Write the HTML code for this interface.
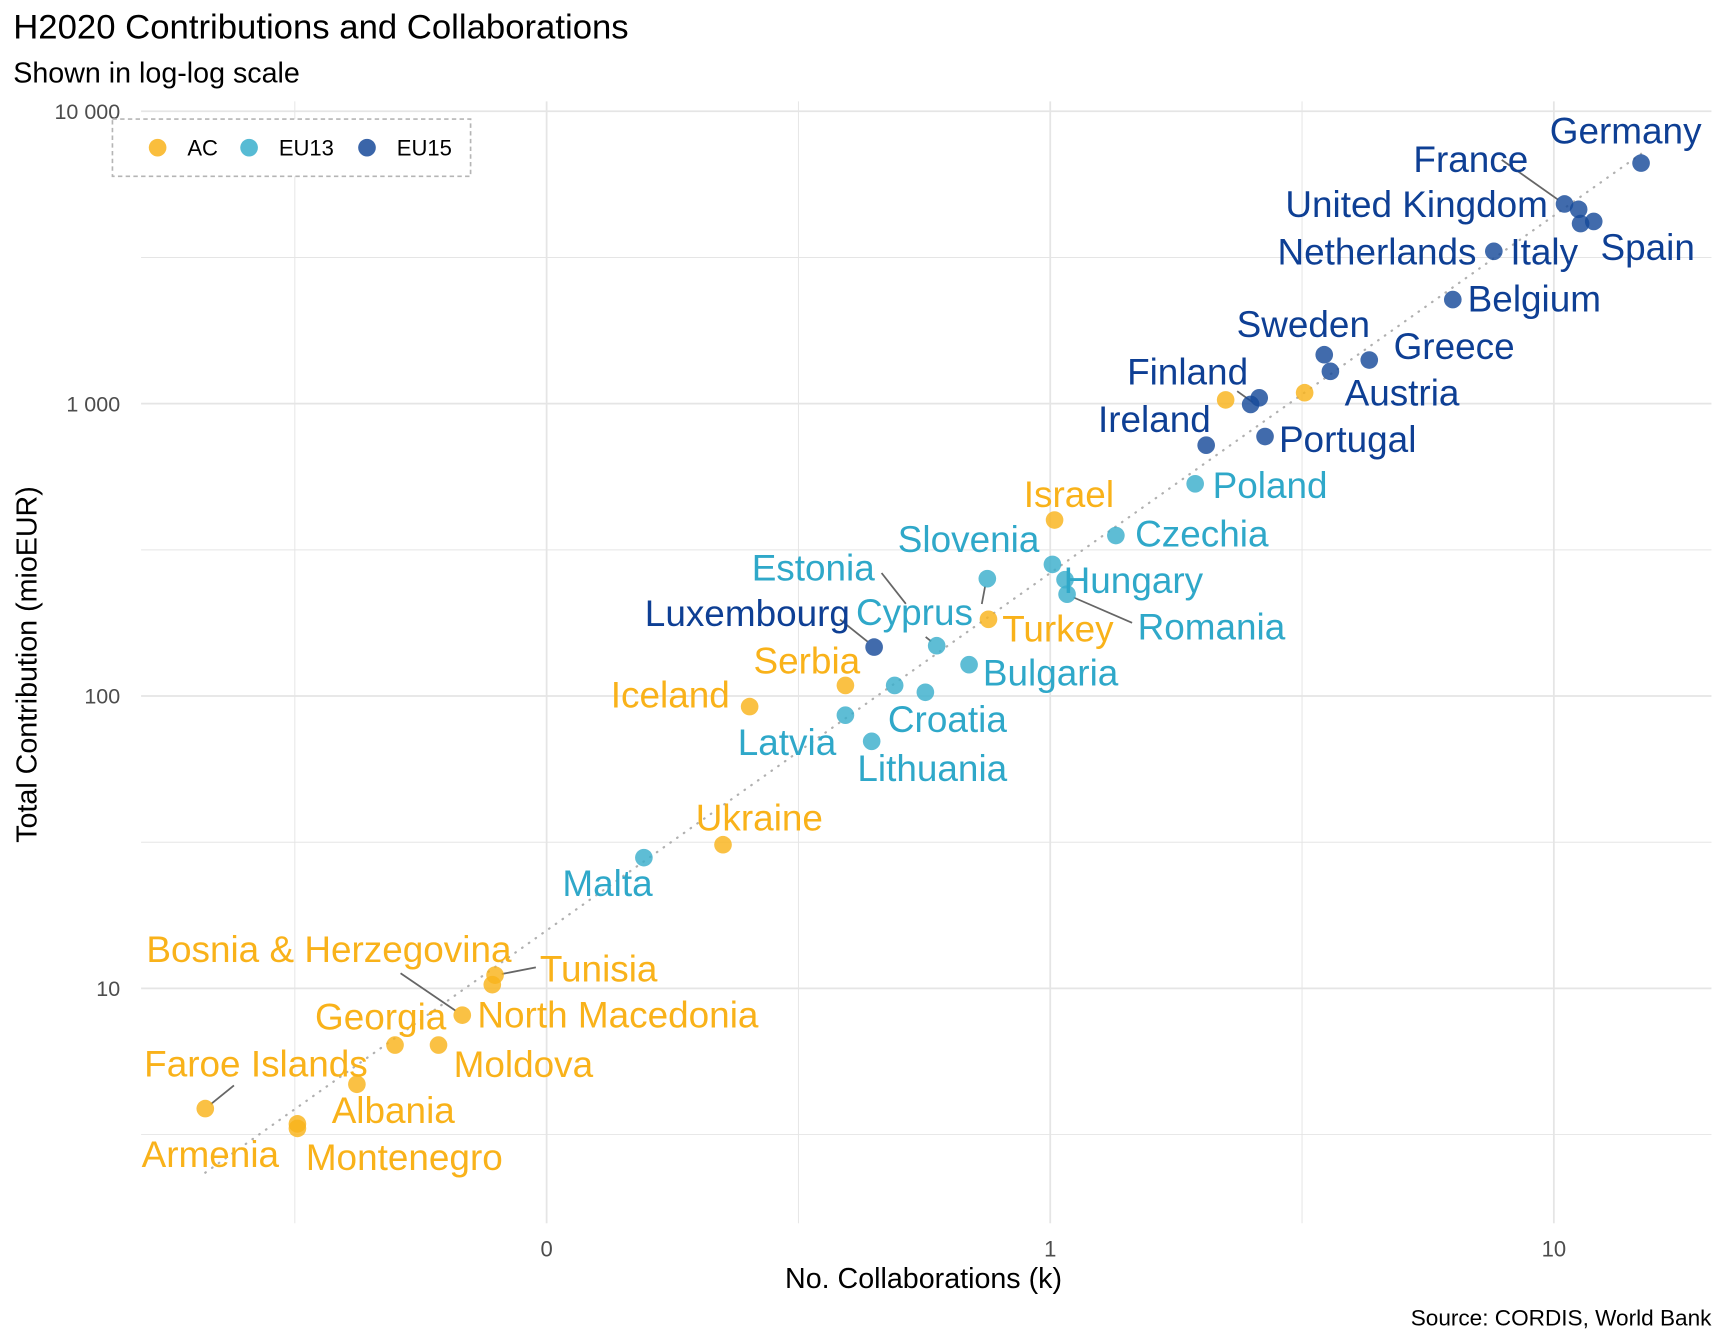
<!DOCTYPE html>
<html><head><meta charset="utf-8"><style>
html,body{margin:0;padding:0;background:#fff}
svg{display:block;font-family:"Liberation Sans",Arial,sans-serif}
</style></head><body>
<svg id="chart" width="1728" height="1344" viewBox="0 0 1568 1219.6" xmlns="http://www.w3.org/2000/svg">
<rect width="1568" height="1219.6" fill="#fff"/>
<text x="12" y="35" font-size="31.5" fill="#000">H2020 Contributions and Collaborations</text>
<text x="12" y="75" font-size="26" fill="#000">Shown in log-log scale</text>
<g id="grid"></g>
<g id="axes"></g>
<g id="marks"></g>
<g>
<rect x="102" y="108" width="325" height="52" fill="#fff" stroke="#b5b5b5" stroke-width="1.5" stroke-dasharray="4,3"/>
<g><circle cx="143" cy="134" r="8" fill="#f9b31b" fill-opacity="0.85"/><text x="170" y="141" font-size="20">AC</text></g>
<g><circle cx="226" cy="134" r="8" fill="#3aafcc" fill-opacity="0.85"/><text x="253" y="141" font-size="20">EU13</text></g>
<g><circle cx="333" cy="134" r="8" fill="#174a9a" fill-opacity="0.85"/><text x="360" y="141" font-size="20">EU15</text></g>
</g>
<text x="838" y="1169" font-size="26" text-anchor="middle">No. Collaborations (k)</text>
<text transform="translate(33,603) rotate(-90)" font-size="26" text-anchor="middle">Total Contribution (mioEUR)</text>
<text x="1553" y="1203" font-size="20.5" text-anchor="end">Source: CORDIS, World Bank</text>
</svg>
<script>
const countries = ["Germany","France","United Kingdom","Spain","Italy","Netherlands","Belgium","Sweden","Greece","Austria","Finland","Denmark","Switzerland","Norway","Ireland","Portugal","Poland","Israel","Czechia","Slovenia","Slovakia","Hungary","Romania","Turkey","Estonia","Cyprus","Luxembourg","Bulgaria","Serbia","Croatia","Iceland","Latvia","Lithuania","Ukraine","Malta","Tunisia","North Macedonia","Bosnia & Herzegovina","Georgia","Moldova","Albania","Faroe Islands","Montenegro","Armenia"];
const groups = ["EU15","EU15","EU15","EU15","EU15","EU15","EU15","EU15","EU15","EU15","EU15","EU15","AC","AC","EU15","EU15","EU13","AC","EU13","EU13","EU13","EU13","EU13","AC","EU13","EU13","EU15","EU13","AC","EU13","AC","EU13","EU13","AC","EU13","AC","AC","AC","AC","AC","AC","AC","AC","AC"];
const collaborations = [14.9,10.5,11.2,12.0,11.3,7.6,6.3,3.5,4.3,3.6,2.6,2.5,3.2,2.23,2.04,2.67,1.94,1.02,1.35,0.75,1.01,1.07,1.08,0.754,0.595,0.491,0.447,0.69,0.392,0.565,0.253,0.392,0.442,0.224,0.156,0.079,0.078,0.068,0.050,0.061,0.042,0.021,0.032,0.032];
const contributions = [6650,4820,4620,4200,4130,3320,2270,1470,1410,1290,1047,994,1090,1030,721,772,532,400,354,252,282,250,223,183,148.6,108.7,147,128,108.7,103,92,86,70,31,28,11.1,10.3,8.1,6.4,6.4,4.7,3.88,3.44,3.32];
const xTickValues = [0.1,1,10];
const xTickLabels = ["0","1","10"];
const yTickValues = [10,100,1000,10000];
const yTickLabels = ["10","100","1 000","10 000"];

const labelOff = {"Germany":[-14,-18],"France":[-85,-29],"United Kingdom":[-147,7],"Spain":[49,35],"Italy":[-33,37],"Netherlands":[-106,12],"Belgium":[74,11],"Sweden":[-19,-16],"Greece":[77,-1],"Austria":[65,31],"Finland":[-65,-12],"Ireland":[-47,-12],"Portugal":[75,14],"Poland":[68,13],"Israel":[13,-12],"Czechia":[78,10],"Slovenia":[-17,-24],"Hungary":[62,12],"Romania":[131,41],"Turkey":[63,20],"Estonia":[-112,-59],"Cyprus":[18,-55],"Luxembourg":[-115,-19],"Bulgaria":[74,19],"Serbia":[-35,-11],"Croatia":[20,36],"Iceland":[-72,1],"Latvia":[-53,36],"Lithuania":[55,36],"Ukraine":[33,-13],"Malta":[-33,35],"Tunisia":[94,6],"North Macedonia":[114,39],"Bosnia & Herzegovina":[-121,-48],"Georgia":[-13,-14],"Moldova":[77,29],"Albania":[33,35],"Faroe Islands":[46,-29],"Montenegro":[97,42],"Armenia":[-79,35]};
const segOff = {"France":[[-57,-40,-6,-4]],"Luxembourg":[[-31,-25,-6,-5]],"Estonia":[[-50,-66,-28,-38],[-10,-8,-5,-4]],"Slovenia":[[-5,23,-2,7]],"Romania":[[59,26,6,3]],"Finland":[[-20,-6,-6,4]],"Bosnia & Herzegovina":[[-56,-38,-6,-4]],"Tunisia":[[37,-7,6,-1]],"Faroe Islands":[[26,-21,5,-4]]};

const X0=496, XD=457, Y0=101, YD=265.3;
function xs(v){return X0+XD*Math.log10(v/0.1);}
function ys(v){return Y0+YD*(4-Math.log10(v));}
const ptColor={AC:"#f9b31b",EU13:"#3aafcc",EU15:"#174a9a"};
const txColor={AC:"#f9b21a",EU13:"#2fa8c9",EU15:"#0e3f94"};
const NS="http://www.w3.org/2000/svg";
function mk(tag,attrs,parent){const e=document.createElementNS(NS,tag);for(const k in attrs)e.setAttribute(k,attrs[k]);parent.appendChild(e);return e;}

const grid=document.getElementById('grid'), axes=document.getElementById('axes'), marks=document.getElementById('marks');
const PL=128, PR=1553, PT=92, PB=1110;
for(let e=-2;e<=1.5;e+=0.5){const v=Math.pow(10,e);const x=xs(v);if(x<PL||x>PR)continue;
 const l=mk('line',{x1:x,x2:x,y1:PT,y2:PB,stroke:"#e5e5e5","stroke-width":Number.isInteger(e)?1.6:0.9},grid);
 
 }
for(let e=0;e<=4;e+=0.5){const v=Math.pow(10,e);const y=ys(v);if(y<PT||y>PB)continue;
 const l=mk('line',{x1:PL,x2:PR,y1:y,y2:y,stroke:"#e5e5e5","stroke-width":Number.isInteger(e)?1.6:0.9},grid);
 
 }
xTickValues.forEach((v,i)=>{const t=mk('text',{x:xs(v),y:1140,"font-size":20,fill:"#4d4d4d","text-anchor":"middle"},axes);t.textContent=xTickLabels[i];
 
 });
yTickValues.forEach((v,i)=>{const t=mk('text',{x:109,y:ys(v)+7,"font-size":19.5,fill:"#4d4d4d","text-anchor":"end"},axes);t.textContent=yTickLabels[i];
 
 });

{let n=collaborations.length,sx=0,sy=0,sxx=0,sxy=0;
 for(let i=0;i<n;i++){const a=Math.log10(collaborations[i]),b=Math.log10(contributions[i]);sx+=a;sy+=b;sxx+=a*a;sxy+=a*b;}
 const m=(n*sxy-sx*sy)/(n*sxx-sx*sx), c=(sy-m*sx)/n;
 const xa=Math.min(...collaborations), xb=Math.max(...collaborations);
 const tl=mk('line',{x1:xs(xa),y1:ys(Math.pow(10,c+m*Math.log10(xa))),x2:xs(xb),y2:ys(Math.pow(10,c+m*Math.log10(xb))),stroke:"#b0b0b0","stroke-width":2,"stroke-dasharray":"0.5,7","stroke-linecap":"round"},marks);
 
 }

countries.forEach((c,i)=>{const s=segOff[c];if(!s)return;const px=xs(collaborations[i]),py=ys(contributions[i]);
 s.forEach(q=>{const l=mk('line',{x1:px+q[0],y1:py+q[1],x2:px+q[2],y2:py+q[3],stroke:"#666","stroke-width":1.6},marks);
 
 });});
countries.forEach((c,i)=>{const p=mk('circle',{cx:xs(collaborations[i]),cy:ys(contributions[i]),r:8,fill:ptColor[groups[i]],"fill-opacity":0.82},marks);
 
 });
countries.forEach((c,i)=>{const o=labelOff[c];if(!o)return;
 const t=mk('text',{x:xs(collaborations[i])+o[0],y:ys(contributions[i])+o[1],"font-size":33.5,fill:txColor[groups[i]],"text-anchor":"middle"},marks);t.textContent=c;
 
 });
</script>
</body></html>
